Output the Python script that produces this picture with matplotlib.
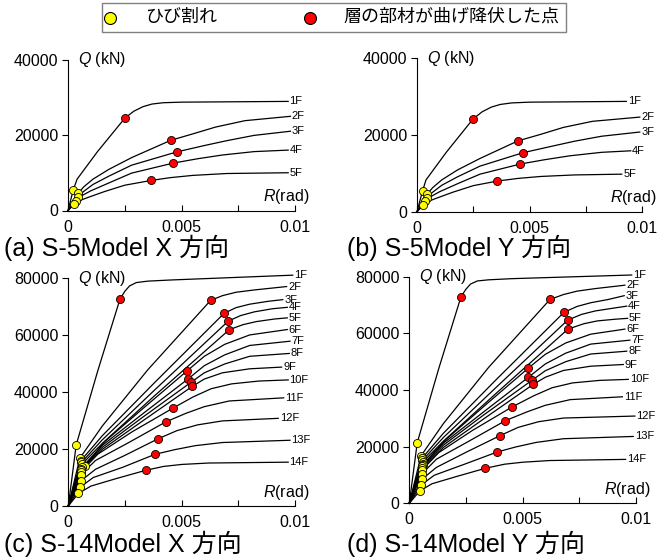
import matplotlib
matplotlib.use('Agg')
import matplotlib.pyplot as plt
from matplotlib.lines import Line2D
from matplotlib.patches import Rectangle

plt.rcParams['font.family'] = ['Liberation Sans', 'Noto Sans CJK JP', 'DejaVu Sans']
plt.rcParams['mathtext.fontset'] = 'custom'
plt.rcParams['mathtext.rm'] = 'Liberation Sans'
plt.rcParams['mathtext.it'] = 'Liberation Sans:italic'

# ---------------- data ----------------
floors5 = ['1F', '2F', '3F', '4F', '5F']
floors14 = ['1F', '2F', '3F', '4F', '5F', '6F', '7F', '8F', '9F', '10F', '11F', '12F', '13F', '14F']

# S-5Model X
s5x_crack_R = [0.00023, 0.00045, 0.00045, 0.00035, 0.00027]
s5x_crack_Q = [5400, 4600, 3700, 2600, 1650]
s5x_pre_R = [[0.0004, 0.0013], [0.0007, 0.0011, 0.0018, 0.0028], [0.0007, 0.0011, 0.0018, 0.0028],
             [0.0006, 0.001, 0.0018, 0.0028], [0.0005, 0.0009, 0.0016, 0.0025]]
s5x_pre_Q = [[8300, 15600], [6300, 8300, 10900, 14000], [5100, 6900, 9100, 12000],
             [3900, 5200, 7300, 9900], [2600, 3500, 5000, 6700]]
s5x_yld_R = [0.00251, 0.00453, 0.00478, 0.00463, 0.00365]
s5x_yld_Q = [24500, 18600, 15500, 12550, 7950]
s5x_post_R = [[0.0029, 0.0033, 0.0037, 0.0042, 0.005, 0.0097], [0.0055, 0.0065, 0.0078, 0.0098],
              [0.006, 0.007, 0.0082, 0.0098], [0.0057, 0.0068, 0.0082, 0.0097],
              [0.0045, 0.0055, 0.007, 0.0097]]
s5x_post_Q = [[26300, 27500, 28200, 28550, 28700, 28900], [20300, 22100, 23800, 24950],
              [17200, 18500, 19900, 21000], [13700, 14700, 15600, 16000],
              [8700, 9300, 9800, 10000]]

# S-5Model Y
s5y_crack_R = [0.00025, 0.00045, 0.00044, 0.00036, 0.00028]
s5y_crack_Q = [5500, 4600, 3700, 2700, 1700]
s5y_pre_R = [[0.0004, 0.0013], [0.0007, 0.0011, 0.0018, 0.0028], [0.0007, 0.0011, 0.0018, 0.0028],
             [0.0006, 0.001, 0.0018, 0.0028], [0.0005, 0.0009, 0.0016, 0.0025]]
s5y_pre_Q = [[8300, 15500], [6300, 8300, 10900, 13900], [5100, 6900, 9100, 11900],
             [3900, 5200, 7300, 9800], [2700, 3600, 5100, 6800]]
s5y_yld_R = [0.00249, 0.00449, 0.00471, 0.00459, 0.00357]
s5y_yld_Q = [24200, 18500, 15400, 12450, 8000]
s5y_post_R = [[0.0029, 0.0033, 0.0037, 0.0042, 0.005, 0.0093], [0.0055, 0.0065, 0.0078, 0.0099],
              [0.006, 0.007, 0.0082, 0.0099], [0.0057, 0.0068, 0.0082, 0.0095],
              [0.0045, 0.0055, 0.007, 0.0091]]
s5y_post_Q = [[26100, 27300, 28000, 28400, 28600, 28800], [20200, 22000, 23600, 24700],
              [17100, 18400, 19700, 20800], [13600, 14600, 15500, 15900],
              [8700, 9200, 9600, 9800]]

# S-14Model X
s14x_crack_R = [0.00035, 0.00051, 0.00055, 0.00058, 0.0006, 0.00074, 0.0006,
                0.00057, 0.00055, 0.00056, 0.00055, 0.00055, 0.00052, 0.00044]
s14x_crack_Q = [21500, 16800, 15900, 15300, 14700, 14100, 13600,
                13100, 12600, 12000, 10900, 8800, 6600, 4400]
s14x_pre_R = [[0.0013], [0.0015, 0.0035], [0.0015, 0.0038], [0.0015, 0.0038], [0.0015, 0.0038],
              [0.0016, 0.0033], [0.0015, 0.0033], [0.0015, 0.0033], [0.0015, 0.0033],
              [0.0013, 0.0028], [0.0012, 0.0026], [0.0012, 0.0025], [0.0011, 0.0024], [0.001, 0.0021]]
s14x_pre_Q = [[47500], [28100, 47800], [24700, 43300], [23250, 40700], [22000, 38700],
              [22600, 34300], [21300, 32500], [20600, 31300], [19900, 30000],
              [18200, 26000], [16000, 22000], [12900, 17800], [10000, 13600], [7000, 9600]]
s14x_yld_R = [0.00228, 0.00628, 0.00687, 0.00706, 0.0071, 0.00525, 0.00526,
              0.00541, 0.00547, 0.0046, 0.00429, 0.00397, 0.00382, 0.00341]
s14x_yld_Q = [72700, 72250, 67680, 64990, 61950, 47540, 44500,
              43440, 42040, 34310, 29510, 23650, 18150, 12530]
s14x_post_R = [[0.0025, 0.0027, 0.003, 0.0035, 0.0045, 0.0099], [0.0068, 0.0074, 0.0082, 0.00963],
               [0.0074, 0.008, 0.0088, 0.00946], [0.0076, 0.0082, 0.009, 0.00966],
               [0.0077, 0.0083, 0.0091, 0.00966],
               [0.006, 0.0069, 0.008, 0.00966], [0.006, 0.0069, 0.008, 0.00978],
               [0.006, 0.0069, 0.008, 0.00975], [0.006, 0.0068, 0.008, 0.00941],
               [0.0055, 0.0063, 0.0072, 0.0084, 0.0097], [0.0052, 0.006, 0.0071, 0.0095],
               [0.0048, 0.0057, 0.0068, 0.00926], [0.0047, 0.0056, 0.0068, 0.00978],
               [0.0042, 0.005, 0.0062, 0.0097]]
s14x_post_Q = [[75500, 77300, 78500, 79000, 79400, 81100], [73900, 75100, 75900, 77100],
               [69700, 70900, 71900, 72500], [66900, 68200, 69300, 69800],
               [63700, 64800, 65700, 66100],
               [52600, 56800, 60100, 62000], [49300, 53100, 56400, 57900],
               [46800, 49900, 52600, 53600], [44600, 46800, 48200, 48800],
               [38300, 41200, 42900, 43900, 44300], [32600, 34900, 36900, 38000],
               [26500, 28500, 29900, 30800], [19800, 21200, 22300, 23100],
               [13900, 14600, 15100, 15400]]

# S-14Model Y
s14y_crack_R = [0.00035, 0.00052, 0.00056, 0.00058, 0.0006, 0.00062, 0.0006,
                0.00058, 0.00056, 0.00057, 0.00056, 0.00056, 0.00053, 0.00046]
s14y_crack_Q = [21400, 16800, 15900, 15200, 14600, 13800, 13500,
                13000, 12400, 11800, 10400, 8500, 6500, 4350]
s14y_pre_R = [[0.0013], [0.0015, 0.0035], [0.0015, 0.0038], [0.0015, 0.0038], [0.0015, 0.0038],
              [0.0016, 0.0033], [0.0015, 0.0033], [0.0015, 0.0033], [0.0015, 0.0033],
              [0.0013, 0.0028], [0.0012, 0.0026], [0.0012, 0.0025], [0.0011, 0.0024], [0.001, 0.0021]]
s14y_pre_Q = [[47600], [28100, 48000], [24700, 43400], [23200, 40700], [21900, 38600],
              [22400, 34300], [21200, 32400], [20500, 31300], [19700, 29900],
              [17900, 25800], [15600, 21800], [12700, 18000], [9900, 13700], [6900, 9500]]
s14y_yld_R = [0.00228, 0.00621, 0.00682, 0.00699, 0.007, 0.00524, 0.00525,
              0.00543, 0.00547, 0.00453, 0.00424, 0.004, 0.00388, 0.00335]
s14y_yld_Q = [72900, 72000, 67400, 64700, 61500, 47650, 44470,
              43530, 42000, 34000, 29180, 23880, 18120, 12350]
s14y_post_R = [[0.0025, 0.0027, 0.003, 0.0035, 0.0045, 0.00981], [0.0068, 0.0074, 0.0082, 0.00951],
               [0.0074, 0.008, 0.0088, 0.00948], [0.0076, 0.0082, 0.009, 0.00959],
               [0.0077, 0.0083, 0.0091, 0.00963],
               [0.006, 0.0069, 0.008, 0.00951], [0.006, 0.0069, 0.008, 0.00973],
               [0.006, 0.0069, 0.008, 0.00959], [0.006, 0.0068, 0.008, 0.00944],
               [0.0055, 0.0063, 0.0072, 0.0084, 0.00966], [0.0052, 0.006, 0.0071, 0.0094],
               [0.0048, 0.0057, 0.0068, 0.00995], [0.0047, 0.0056, 0.0068, 0.00988],
               [0.0042, 0.005, 0.0062, 0.00954]]
s14y_post_Q = [[75600, 77400, 78500, 78900, 79300, 80600], [73700, 74900, 75800, 77000],
               [69500, 70800, 72000, 73300], [66700, 67900, 68900, 69600],
               [63400, 64400, 65000, 65300],
               [52600, 56600, 59700, 61500], [49200, 53000, 56200, 57600],
               [46800, 50000, 52700, 53700], [44500, 46900, 48400, 49000],
               [38000, 40800, 42500, 43400, 43750], [32300, 34600, 36600, 37600],
               [26800, 28800, 30100, 30800], [19900, 21500, 22800, 23600],
               [13800, 14500, 15100, 15500]]

x_ticks = [0, 0.0025, 0.005, 0.0075, 0.01]
x_ticklabels = ['0', '', '0.005', '', '0.01']
y_ticks_5 = [0, 20000, 40000]
y_ticks_14 = [0, 20000, 40000, 60000, 80000]

titles = ['(a) S-5Model X 方向', '(b) S-5Model Y 方向', '(c) S-14Model X 方向', '(d) S-14Model Y 方向']
legend_labels = ['ひび割れ', '層の部材が曲げ降伏した点']

# ---------------- figure ----------------
W, H = 671, 558
fig = plt.figure(figsize=(W / 100, H / 100), dpi=100)


def px_axes(l, r, t, b):
    return fig.add_axes([l / W, 1 - b / H, (r - l) / W, (b - t) / H])


ax_a = px_axes(68, 295, 59.5, 210.5)
ax_b = px_axes(417, 642, 58.5, 211.7)
ax_c = px_axes(68.3, 295, 278.3, 506)
ax_d = px_axes(409.3, 636, 276.7, 503.3)


def draw(ax, floors, cR, cQ, pR, pQ, yR, yQ, qR, qQ, ymax, yticks):
    for i, f in enumerate(floors):
        R = [0, cR[i]] + pR[i] + [yR[i]] + qR[i]
        Q = [0, cQ[i]] + pQ[i] + [yQ[i]] + qQ[i]
        ax.plot(R, Q, color='black', lw=0.9, solid_joinstyle='round', clip_on=False, zorder=2)
        ax.annotate(f, (R[-1], Q[-1]), xytext=(1.0, 0), textcoords='offset points',
                    va='center', ha='left', fontsize=8, annotation_clip=False)
    ax.plot(cR, cQ, ls='', marker='o', mfc='#FFFF00', mec='black', mew=0.6, ms=5.8,
            clip_on=False, zorder=3)
    ax.plot(yR, yQ, ls='', marker='o', mfc='#FF0000', mec='black', mew=0.6, ms=5.8,
            clip_on=False, zorder=3)
    ax.set_xlim(0, 0.01)
    ax.set_ylim(0, ymax)
    for s in ['top', 'right']:
        ax.spines[s].set_visible(False)
    for s in ['left', 'bottom']:
        ax.spines[s].set_linewidth(0.8)
    ax.set_xticks(x_ticks)
    ax.set_xticklabels(x_ticklabels)
    ax.set_yticks(yticks)
    ax.set_yticklabels([str(v) for v in yticks])
    ax.tick_params(axis='x', direction='in', length=4, width=0.8, pad=6.5, labelsize=11.5)
    ax.tick_params(axis='y', direction='out', length=4, width=0.8, pad=3, labelsize=11.5)
    ax.annotate('$Q$ (kN)', (0, 1), xycoords='axes fraction', xytext=(7, 0),
                textcoords='offset points', va='center', ha='left', fontsize=11.5)
    ax.annotate('$R$(rad)', (1, 0), xycoords='axes fraction', xytext=(10, 10),
                textcoords='offset points', va='center', ha='right', fontsize=11.5)


draw(ax_a, floors5, s5x_crack_R, s5x_crack_Q, s5x_pre_R, s5x_pre_Q, s5x_yld_R, s5x_yld_Q,
     s5x_post_R, s5x_post_Q, 40000, y_ticks_5)
draw(ax_b, floors5, s5y_crack_R, s5y_crack_Q, s5y_pre_R, s5y_pre_Q, s5y_yld_R, s5y_yld_Q,
     s5y_post_R, s5y_post_Q, 40000, y_ticks_5)
draw(ax_c, floors14, s14x_crack_R, s14x_crack_Q, s14x_pre_R, s14x_pre_Q, s14x_yld_R, s14x_yld_Q,
     s14x_post_R, s14x_post_Q, 80000, y_ticks_14)
draw(ax_d, floors14, s14y_crack_R, s14y_crack_Q, s14y_pre_R, s14y_pre_Q, s14y_yld_R, s14y_yld_Q,
     s14y_post_R, s14y_post_Q, 80000, y_ticks_14)

# panel titles
for (xp, yp), t in zip([(4, 248), (347, 248), (4, 544), (347, 544)], titles):
    fig.text(xp / W, 1 - yp / H, t, fontsize=18, va='center', ha='left')

# legend box
fig.patches.append(Rectangle((102 / W, 1 - 32 / H), (566 - 102) / W, 29 / H,
                             transform=fig.transFigure, fill=False,
                             edgecolor='#808080', lw=1.0))
ly = 1 - 17.5 / H
fig.add_artist(Line2D([110 / W], [ly], marker='o', ms=8.6, mfc='#FFFF00', mec='black',
                      mew=0.8, ls='', transform=fig.transFigure))
fig.add_artist(Line2D([310 / W], [ly], marker='o', ms=8.6, mfc='#FF0000', mec='black',
                      mew=0.8, ls='', transform=fig.transFigure))
fig.text(145 / W, ly, legend_labels[0], fontsize=13, va='center', ha='left')
fig.text(343 / W, ly, legend_labels[1], fontsize=13, va='center', ha='left')

fig.savefig('out.png', dpi=100)
